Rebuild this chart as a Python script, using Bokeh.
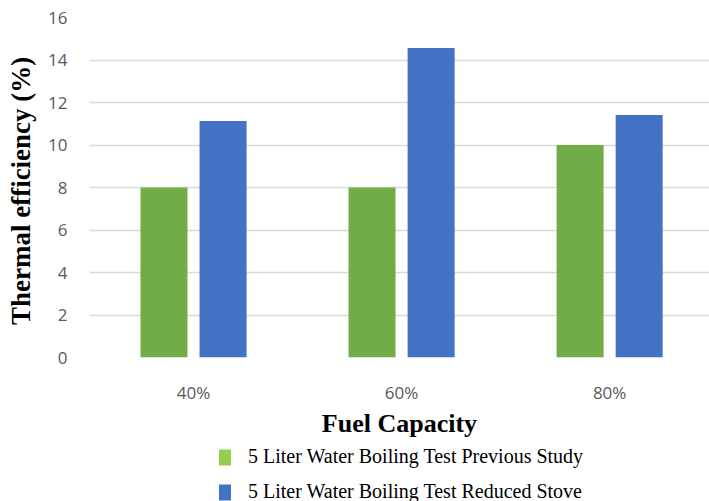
from bokeh.plotting import figure
from bokeh.layouts import column
from bokeh.models import Range1d, FixedTicker, Legend, LegendItem
from bokeh.embed import file_html
from bokeh.resources import INLINE

# Fuel capacity levels and thermal efficiency (%) of the two tests
categories = ["40%", "60%", "80%"]
previous_study = [8.0, 8.0, 10.0]
reduced_stove = [11.13, 14.57, 11.41]
y_ticks = [0, 2, 4, 6, 8, 10, 12, 14, 16]

series_names = [
    "5 Liter Water Boiling Test Previous Study",
    "5 Liter Water Boiling Test Reduced Stove",
]

GREEN = "#70AD47"
BLUE = "#4472C4"
LEGEND_GREEN = "#92D050"
GRID = "#D9D9D9"
TICK_TEXT = "#595959"

xs = list(range(len(categories)))
bar_w = 0.226
offset = 0.142

p = figure(
    frame_width=620, frame_height=340,
    x_range=Range1d(-0.5, 2.48), y_range=Range1d(0, 16),
    output_backend="svg", toolbar_location=None,
    min_border_left=89, min_border_right=0, min_border_top=17,
    min_border_bottom=0,
)
p.outline_line_color = None
p.background_fill_color = "white"

p.vbar(x=[x - offset for x in xs], top=previous_study, width=bar_w,
       fill_color=GREEN, line_color=None)
p.vbar(x=[x + offset for x in xs], top=reduced_stove, width=bar_w,
       fill_color=BLUE, line_color=None)

# axes
p.xaxis.ticker = FixedTicker(ticks=xs)
p.xaxis.major_label_overrides = {i: c for i, c in enumerate(categories)}
p.xaxis.axis_line_color = None
p.xaxis.major_tick_line_color = None
p.xaxis.minor_tick_line_color = None
p.xaxis.major_label_text_font = "Open Sans"
p.xaxis.major_label_text_font_size = "17px"
p.xaxis.major_label_text_color = TICK_TEXT
p.xaxis.major_label_standoff = 17
p.xaxis.axis_label = "Fuel Capacity"
p.xaxis.axis_label_text_font = "Liberation Serif"
p.xaxis.axis_label_text_font_style = "bold"
p.xaxis.axis_label_text_font_size = "26px"
p.xaxis.axis_label_text_color = "black"
p.xaxis.axis_label_standoff = 2

p.yaxis.ticker = FixedTicker(ticks=y_ticks)
p.yaxis.axis_line_color = None
p.yaxis.major_tick_line_color = None
p.yaxis.minor_tick_line_color = None
p.yaxis.major_label_text_font = "Open Sans"
p.yaxis.major_label_text_font_size = "17px"
p.yaxis.major_label_text_color = TICK_TEXT
p.yaxis.major_label_standoff = 16
p.yaxis.axis_label = "Thermal efficiency  (%)"
p.yaxis.axis_label_text_font = "Liberation Serif"
p.yaxis.axis_label_text_font_style = "bold"
p.yaxis.axis_label_text_font_size = "27px"
p.yaxis.axis_label_text_color = "black"
p.yaxis.axis_label_standoff = 9

p.xgrid.grid_line_color = None
p.ygrid.grid_line_color = GRID
p.ygrid.grid_line_width = 1.5

# legend strip under the chart
lf = figure(
    width=709, height=70,
    x_range=Range1d(0, 1), y_range=Range1d(0, 1),
    x_axis_type=None, y_axis_type=None,
    output_backend="svg", toolbar_location=None,
    min_border=0,
)
lf.outline_line_color = None
lf.xgrid.grid_line_color = None
lf.ygrid.grid_line_color = None

# legend swatches: zero-height bars carrying the legend colours
leg_prev = lf.vbar(x=[0.5], top=[0], bottom=[0], width=0.1,
                   fill_color=LEGEND_GREEN, line_color=None)
leg_red = lf.vbar(x=[0.5], top=[0], bottom=[0], width=0.1,
                  fill_color=BLUE, line_color=None)

legend = Legend(
    items=[LegendItem(label=series_names[0], renderers=[leg_prev]),
           LegendItem(label=series_names[1], renderers=[leg_red])],
    orientation="vertical",
    location=(128, 7),
    glyph_width=15, glyph_height=20,
    label_text_font="Liberation Serif",
    label_text_font_size="20px",
    label_text_color="black",
    label_standoff=16,
    spacing=12,
    padding=0, margin=0,
    border_line_color=None,
    background_fill_alpha=0,
)
lf.add_layout(legend, "center")

layout = column(p, lf, spacing=0)
open("out.html", "w").write(file_html(layout, INLINE))
